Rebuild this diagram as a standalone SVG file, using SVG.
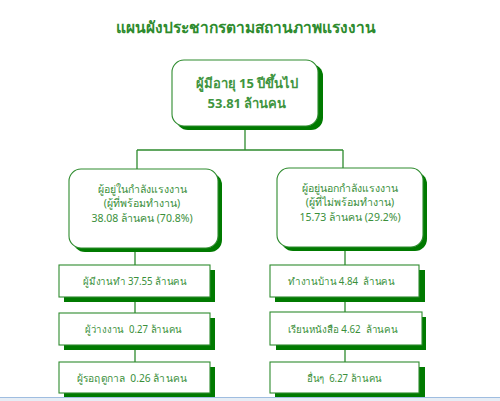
<svg xmlns="http://www.w3.org/2000/svg" width="500" height="401" viewBox="0 0 500 401">
<style>
text{font-family:"Noto Sans","Liberation Sans",sans-serif;fill:#3a8f3a;text-anchor:middle;white-space:pre}
.title{font-size:15.5px;font-weight:bold;fill:#2e8b2e}
.big{font-size:13px;font-weight:bold;fill:#3f953f}
.mid{font-size:10.5px}
.sm{font-size:10px}
.box{fill:#fff;stroke:#2e8b2e;stroke-width:1.1}
.sh{fill:#007a00}
.ln{stroke:#2e8b2e;stroke-width:1.3;fill:none}
</style>
<rect width="500" height="401" fill="#fff"/>
<text class="title" x="246" y="33">แผนผังประชากรตามสถานภาพแรงงาน</text>
<g id="connectors">
<path class="ln" d="M245 127V150M137 150H343M137 150V169M343 150V168"/>
<path class="ln" d="M135 248V265M135 297V313M135 345V362"/>
<path class="ln" d="M345 247V265M345 297V312M345 345V362"/>
</g>
<g id="top">
<rect class="sh" x="176" y="64" width="147" height="66" rx="12"/>
<rect class="box" x="172" y="60" width="146" height="66" rx="12"/>
<text class="big" x="247" y="88">ผู้มีอายุ 15 ปีขึ้นไป</text>
<text class="big" x="247" y="108">53.81 ล้านคน</text>
</g>
<g id="labor">
<rect class="sh" x="73" y="173" width="149" height="79" rx="12"/>
<rect class="box" x="69" y="169" width="149" height="79" rx="12"/>
<text class="mid" x="142" y="193">ผู้อยู่ในกำลังแรงงาน</text>
<text class="mid" x="142" y="207">(ผู้ที่พร้อมทำงาน)</text>
<text class="mid" x="142" y="222">38.08 ล้านคน (70.8%)</text>
</g>
<g id="nonlabor">
<rect class="sh" x="281" y="172" width="146" height="79" rx="12"/>
<rect class="box" x="277" y="168" width="146" height="79" rx="12"/>
<text class="mid" x="350" y="192">ผู้อยู่นอกกำลังแรงงาน</text>
<text class="mid" x="350" y="206">(ผู้ที่ไม่พร้อมทำงาน)</text>
<text class="mid" x="350" y="221">15.73 ล้านคน (29.2%)</text>
</g>
<g id="employed">
<rect class="sh" x="64" y="270" width="151" height="32"/>
<rect class="box" x="59" y="265" width="151" height="32"/>
<text class="sm" x="135" y="285" textLength="104" lengthAdjust="spacingAndGlyphs">ผู้มีงานทำ 37.55 ล้านคน</text>
</g>
<g id="unemployed">
<rect class="sh" x="64" y="318" width="151" height="32"/>
<rect class="box" x="59" y="313" width="151" height="32"/>
<text class="sm" x="133.5" y="333" textLength="97" lengthAdjust="spacingAndGlyphs">ผู้ว่างงาน  0.27 ล้านคน</text>
</g>
<g id="seasonal">
<rect class="sh" x="64" y="367" width="151" height="31"/>
<rect class="box" x="59" y="362" width="151" height="31"/>
<text class="sm" x="132" y="382" textLength="110" lengthAdjust="spacingAndGlyphs">ผู้รอฤดูกาล  0.26 ล้านคน</text>
</g>
<g id="housework">
<rect class="sh" x="275" y="270" width="150" height="32"/>
<rect class="box" x="270" y="265" width="149" height="32"/>
<text class="sm" x="341.5" y="285" textLength="107" lengthAdjust="spacingAndGlyphs">ทำงานบ้าน 4.84  ล้านคน</text>
</g>
<g id="study">
<rect class="sh" x="276" y="317" width="150" height="33"/>
<rect class="box" x="270" y="312" width="152" height="33"/>
<text class="sm" x="343" y="333" textLength="110" lengthAdjust="spacingAndGlyphs">เรียนหนังสือ 4.62  ล้านคน</text>
</g>
<g id="other">
<rect class="sh" x="275" y="367" width="150" height="31"/>
<rect class="box" x="270" y="362" width="149" height="31"/>
<text class="sm" x="344.5" y="382" textLength="75" lengthAdjust="spacingAndGlyphs">อื่นๆ  6.27 ล้านคน</text>
</g>
<rect x="0" y="397" width="500" height="4" fill="#e6edf5"/>
<line x1="0" y1="397.5" x2="500" y2="397.5" stroke="#9fbde0" stroke-width="1"/>
</svg>
